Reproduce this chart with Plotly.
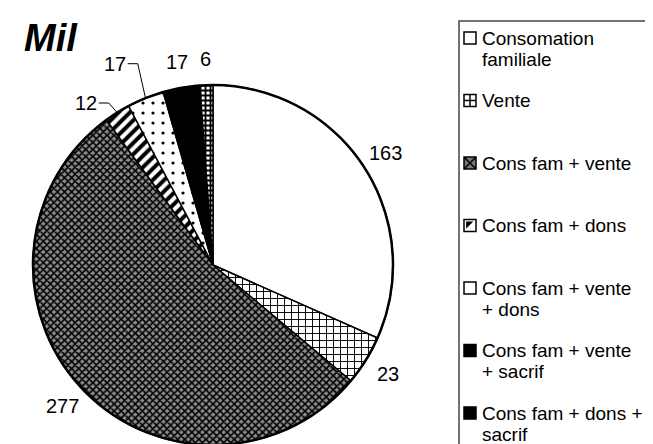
import numpy as np
import plotly.graph_objects as go

# --- data -------------------------------------------------------------
categories = [
    "Consomation familiale",
    "Vente",
    "Cons fam + vente",
    "Cons fam + dons",
    "Cons fam + vente + dons",
    "Cons fam + vente + sacrif",
    "Cons fam + dons + sacrif",
]
values = [163, 23, 277, 12, 17, 17, 6]
legend_lines = [
    ["Consomation", "familiale"],
    ["Vente"],
    ["Cons fam + vente"],
    ["Cons fam + dons"],
    ["Cons fam + vente", "+ dons"],
    ["Cons fam + vente", "+ sacrif"],
    ["Cons fam + dons +", "sacrif"],
]
title = "Mil"

# --- styling ------------------------------------------------------------
W, H = 653, 444
CX, CY, R = 205, 257, 180          # pie centre / radius in pixels
LABEL_R = 206
FONT = "Liberation Sans, Arial, sans-serif"

slice_bg = ["white", "white", "#8c8c8c", "white", "white", "black", "white"]
pat_shape = ["", "+", "x", "/", ".", "", "+"]
pat_size = [8, 7, 5, 8, 10, 8, 5]
pat_solid = [0.2, 0.25, 0.55, 0.5, 0.08, 0.2, 0.6]

# label nudges for the crowded small slices: (angle shift deg, extra radius px)
nudges = {3: (-6, 0), 4: (-4, 18)}

vals = np.array(values, dtype=float)
mid_deg = (np.cumsum(vals) - vals / 2) / vals.sum() * 360


def pt(angle_deg, r):
    a = np.radians(angle_deg)
    return CX + r * np.sin(a), CY - r * np.cos(a)


fig = go.Figure()

fig.add_trace(go.Pie(
    values=values,
    labels=categories,
    sort=False,
    direction="clockwise",
    rotation=0,
    textinfo="none",
    showlegend=False,
    domain=dict(x=[(CX - R) / W, (CX + R) / W],
                y=[1 - (CY + R) / H, 1 - (CY - R) / H]),
    marker=dict(
        colors=slice_bg,
        line=dict(color="black", width=1.5),
        pattern=dict(shape=pat_shape, fgcolor="black", bgcolor=slice_bg,
                     size=pat_size, solidity=pat_solid),
    ),
))

annotations = []
shapes = []

# outer rim, a bit heavier than the slice borders
shapes.append(dict(type="circle", xref="x", yref="y",
                   x0=CX - R, x1=CX + R, y0=CY - R, y1=CY + R,
                   line=dict(color="black", width=2.5)))

# value labels
for i, v in enumerate(values):
    da, dr = nudges.get(i, (0, 0))
    lx, ly = pt(mid_deg[i] + da, LABEL_R + dr)
    annotations.append(dict(x=lx, y=ly, xref="x", yref="y", text=str(v),
                            showarrow=False, xanchor="center", yanchor="middle",
                            font=dict(family=FONT, size=20, color="black")))
    if i in nudges:
        ex, ey = pt(mid_deg[i], R)
        path = f"M {lx + 13},{ly} L {lx + 23},{ly} L {ex},{ey}"
        shapes.append(dict(type="path", xref="x", yref="y", path=path,
                           line=dict(color="black", width=1)))

# title
annotations.append(dict(x=14, y=30, xref="x", yref="y", text="<b><i>" + title + "</i></b>",
                        showarrow=False, xanchor="left", yanchor="middle",
                        font=dict(family=FONT, size=38, color="black")))

# legend box
shapes.append(dict(type="rect", xref="x", yref="y", x0=451, x1=W + 5, y0=13, y1=H + 5,
                   line=dict(color="#444", width=1.5), fillcolor="rgba(0,0,0,0)"))

leg_y0, leg_step = 30, 62.5
sw_x, txt_x = 462, 472
for i, lines in enumerate(legend_lines):
    y = leg_y0 + i * leg_step
    for j, line in enumerate(lines):
        annotations.append(dict(x=txt_x, y=y + j * 21, xref="x", yref="y", text=line,
                                showarrow=False, xanchor="left", yanchor="middle",
                                font=dict(family=FONT, size=19, color="black")))

sw_y = [leg_y0 + i * leg_step for i in range(len(categories))]
sw_symbol = ["square-open", "square-cross-open", "square-x", "square-open",
             "square-open", "square", "square-cross"]
sw_color = ["black", "black", "#777", "black", "black", "black", "black"]
fig.add_trace(go.Scatter(
    x=[sw_x] * len(categories), y=sw_y, mode="markers", hoverinfo="skip",
    showlegend=False,
    marker=dict(symbol=sw_symbol, size=12, color=sw_color,
                line=dict(color="black", width=1.5)),
))
# half-filled swatch for "Cons fam + dons"
fig.add_trace(go.Scatter(
    x=[sw_x - 1.5], y=[sw_y[3] - 1.5], mode="markers", hoverinfo="skip",
    showlegend=False,
    marker=dict(symbol="triangle-nw", size=8, color="black", line=dict(width=0)),
))

fig.update_layout(
    width=W, height=H,
    margin=dict(l=0, r=0, t=0, b=0),
    paper_bgcolor="white", plot_bgcolor="rgba(0,0,0,0)",
    xaxis=dict(range=[0, W], visible=False, fixedrange=True, domain=[0, 1]),
    yaxis=dict(range=[H, 0], visible=False, fixedrange=True, domain=[0, 1]),
    annotations=annotations,
    shapes=shapes,
)

fig.write_html("out.html")
